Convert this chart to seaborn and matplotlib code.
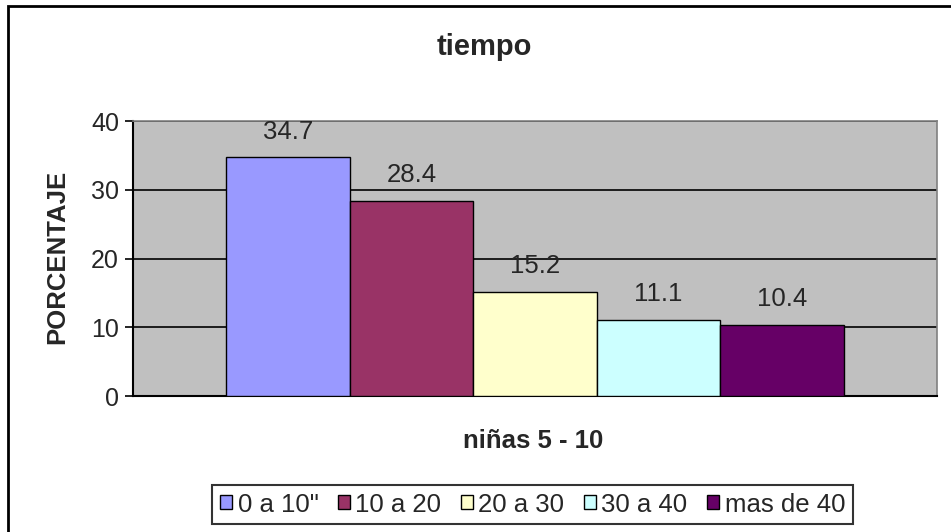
import numpy as np
import pandas as pd
import seaborn as sns
import matplotlib.pyplot as plt
from matplotlib.patches import Patch, Rectangle

# data
group = ['niñas 5 - 10']
series = ['0 a 10"', '10 a 20', '20 a 30', '30 a 40', 'mas de 40']
values = [34.7, 28.4, 15.2, 11.1, 10.4]
colors = ['#9999FF', '#993366', '#FFFFCC', '#CCFFFF', '#660066']

df = pd.DataFrame({'grupo': group * len(series), 'tiempo': series, 'pct': values})

sns.set_style('white')
plt.rcParams['font.family'] = ['Liberation Sans', 'DejaVu Sans']
FS = 18.5

fig = plt.figure(figsize=(9.51, 5.32), dpi=100)
ax = fig.add_axes([133 / 951, 1 - 396 / 532, 804 / 951, 275 / 532])
ax.set_facecolor('#C0C0C0')

sns.barplot(data=df, x='grupo', y='pct', hue='tiempo', hue_order=series,
            palette=colors, width=0.768, edgecolor='black', linewidth=1.0,
            saturation=1, legend=False, ax=ax, zorder=3)

# value labels above each bar
for patch, val in zip(ax.patches, values):
    ax.annotate(f'{val:.1f}', (patch.get_x() + patch.get_width() / 2, patch.get_height()),
                xytext=(0, 18.5), textcoords='offset points',
                ha='center', va='center', fontsize=FS, zorder=4)

ax.set_ylim(0, 40)
ax.set_yticks([0, 10, 20, 30, 40])
ax.set_xlim(-0.5, 0.5)
ax.set_xticks([])
ax.yaxis.grid(True, color='black', linewidth=1.2, zorder=0)
ax.set_axisbelow(True)
ax.tick_params(axis='y', direction='out', length=6, width=1.2, color='black',
               labelsize=18, pad=4, left=True)

for side in ['left', 'bottom']:
    ax.spines[side].set_color('black')
    ax.spines[side].set_linewidth(1.5)
for side in ['top', 'right']:
    ax.spines[side].set_color('#808080')
    ax.spines[side].set_linewidth(1.2)

ax.set_ylabel('PORCENTAJE', fontsize=FS, fontweight='bold')
ax.yaxis.set_label_coords(-0.0945, 0.505)
ax.yaxis.label.set_va('center')
ax.set_xlabel('niñas 5 - 10', fontsize=FS, fontweight='bold')
ax.xaxis.set_label_coords(0.4975, -0.164)
ax.xaxis.label.set_va('center')

fig.text(484 / 951, 1 - 47 / 532, 'tiempo', fontsize=21, fontweight='bold',
         ha='center', va='center')

handles = [Patch(facecolor=c, edgecolor='black', linewidth=1.0) for c in colors]
leg = fig.legend(handles, series, loc='center', bbox_to_anchor=(532.5 / 951, 1 - 504.5 / 532),
                 ncol=5, fontsize=FS, frameon=True, fancybox=False, shadow=False,
                 handlelength=0.47, handleheight=0.47, handletextpad=0.22,
                 columnspacing=0.75, borderpad=0.3, borderaxespad=0)
leg.get_frame().set_edgecolor('black')
leg.get_frame().set_linewidth(1.5)

# outer chart border (runs past the right and bottom edges)
fig.patches.append(Rectangle((8 / 951, -0.05), 1.0, 1 - 6 / 532 + 0.05,
                             transform=fig.transFigure, fill=False,
                             edgecolor='black', linewidth=2))

fig.savefig('out.png', dpi=100)
